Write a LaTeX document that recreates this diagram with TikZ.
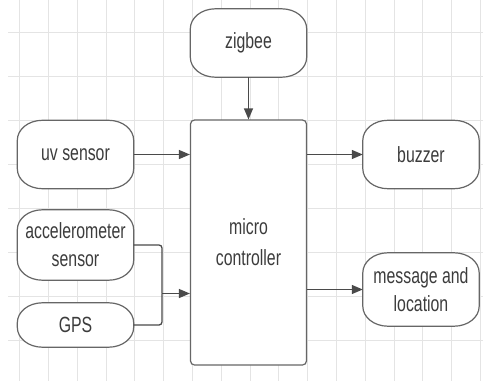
\documentclass[tikz,border=0pt]{standalone}
\usepackage{fontspec}
\newfontfamily\diafont{Liberation Sans}[FakeStretch=0.72]
\usetikzlibrary{arrows.meta,calc}
\definecolor{gridc}{HTML}{E4E4E4}
\definecolor{edgec}{HTML}{666666}
\definecolor{textc}{HTML}{3C3C3C}
\definecolor{linec}{HTML}{4A4A4A}
\newcommand\pillat[1]{%
  \draw[draw=edgec,line width=1.2pt,fill=white]
    ($(#1.north west)+(25pt,0pt)$) -- ($(#1.north east)+(-25pt,0pt)$)
    arc[start angle=90,end angle=0,x radius=25pt,y radius=20pt]
    -- ($(#1.south east)+(0pt,20pt)$)
    arc[start angle=0,end angle=-90,x radius=25pt,y radius=20pt]
    -- ($(#1.south west)+(25pt,0pt)$)
    arc[start angle=-90,end angle=-180,x radius=25pt,y radius=20pt]
    -- ($(#1.north west)+(0pt,-20pt)$)
    arc[start angle=180,end angle=90,x radius=25pt,y radius=20pt]
    -- cycle;}
\begin{document}
\begin{tikzpicture}[x=1pt,y=-1pt,
  pill/.style={minimum width=116pt,inner sep=0pt,align=center,text=textc,
    font=\diafont\fontsize{22}{28}\selectfont},
  mcbox/.style={draw=edgec,line width=1.2pt,rounded corners=4pt,fill=white,
    minimum width=116pt,minimum height=245pt,inner sep=0pt,align=center,text=textc,
    font=\diafont\fontsize{22}{31}\selectfont},
  conn/.style={draw=linec,line width=1.3pt,-{Triangle[length=11pt,width=9pt]}},
  wire/.style={draw=linec,line width=1.3pt,rounded corners=3pt}]
\useasboundingbox (0,0) rectangle (483,381);
\fill[white] (0,0) rectangle (483,381);
% grid
\foreach \k in {0,...,16}{
  \draw[gridc,line width=0.8pt] ({19.5+28.8*\k},0) -- ({19.5+28.8*\k},381);
}
\foreach \k in {0,...,7}{
  \draw[gridc,line width=0.8pt] (8,{32+44*\k}) -- (483,{32+44*\k});
}
% nodes (text placed after shapes are drawn)
\path node[pill,minimum height=68pt] (zig) at (248.5,43) {\phantom{x}}
      node[pill,minimum height=68pt] (uv) at (75.5,154.5) {\phantom{x}}
      node[pill,minimum height=70pt] (acc) at (75.5,245) {\phantom{x}}
      node[pill,minimum height=44pt] (gps) at (75.5,325) {\phantom{x}}
      node[pill,minimum height=68pt] (buz) at (421,154.5) {\phantom{x}}
      node[pill,minimum height=73pt] (msg) at (421,289.5) {\phantom{x}};
\pillat{zig}\pillat{uv}\pillat{acc}\pillat{gps}\pillat{buz}\pillat{msg}
\node[pill] (zigt) at (zig) {zigbee};
\node[pill] (uvt) at (uv) {uv sensor};
\node[pill] (acct) at (acc) {accelerometer\\sensor};
\node[pill] (gpst) at (gps) {GPS};
\node[pill] (buzt) at (buz) {buzzer};
\node[pill] (msgt) at ([yshift=-0.5pt]msg) {message and\\location};
\node[mcbox] (mc) at (248.5,242.5) {micro\\controller};
\coordinate (j) at (162,293.5);
% connectors
\draw[conn] (zig.south) -- (mc.north);
\draw[conn] (uv.east) -- (uv.east -| mc.west);
\draw[wire] (acc.east) -| (j);
\draw[wire] (gps.east) -| (j);
\draw[conn] (j) -- (j -| mc.west);
\draw[conn] (buz.west -| mc.east) -- (buz.west);
\draw[conn] (msg.west -| mc.east) -- (msg.west);
\end{tikzpicture}
\end{document}
